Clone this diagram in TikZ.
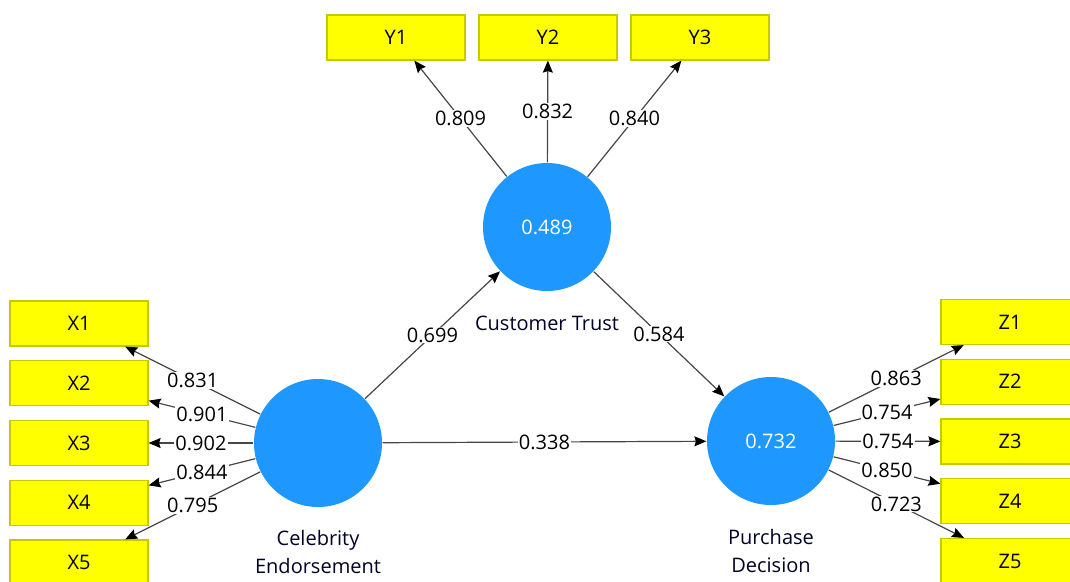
\documentclass[tikz,border=0pt]{standalone}
\usepackage{fontspec}
\setmainfont{Open Sans}
\usetikzlibrary{arrows.meta}

\definecolor{lvblue}{RGB}{30,152,255}
\definecolor{mvyellow}{RGB}{255,255,0}
\definecolor{mvborder}{RGB}{200,200,0}
\definecolor{pathgray}{RGB}{70,70,70}

\begin{document}
\begin{tikzpicture}[x=1pt, y=-1pt, node distance=59.75pt,
    >={Stealth[length=12pt, width=10pt, inset=1.5pt, color=black]}]
      \tikzstyle{latent} = [circle, fill=lvblue, minimum size=128pt, inner sep=0pt, text=white]
      \tikzstyle{item} = [draw=mvborder, fill=mvyellow, minimum width=138pt, minimum height=45pt, inner sep=0pt]
      \tikzstyle{load} = [fill=white, inner sep=1pt]
      \tikzstyle{caption} = [align=center, text=black!85!blue]
      \clip (0,0) rectangle (1070,581);
      \fontsize{20}{28}\selectfont
      \begin{scope}
	\path[->, draw=pathgray, line width=1.2pt]
	node[latent] (ct) at (547,227) {0.489}
	node[latent] (ce) at (318,443) {}
	node[latent] (pd) at (771,441) {0.732}
	node[caption] (ctl) at (547,323) {Customer Trust}
	node[caption] (cel) at (318,552) {Celebrity\\Endorsement}
	node[caption] (pdl) at (771,551) {Purchase\\Decision}
	node[item] (y1) at (396,37.5) {Y1}
	node[item] (y2) at (548,37.5) {Y2}
	node[item] (y3) at (700,37.5) {Y3}
	node[item] (x1) at (79,323.5) {X1}
	node[item, below of=x1] (x2) {X2}
	node[item, below of=x2] (x3) {X3}
	node[item, below of=x3] (x4) {X4}
	node[item, below of=x4] (x5) {X5}
	node[item] (z1) at (1010,322) {Z1}
	node[item, below of=z1] (z2) {Z2}
	node[item, below of=z2] (z3) {Z3}
	node[item, below of=z3] (z4) {Z4}
	node[item, below of=z4] (z5) {Z5}
	(ct) edge node[load] {0.809} (y1)
	(ct) edge node[load] {0.832} (y2)
	(ct) edge node[load] {0.840} (y3)
	(ce) edge node[load] {0.831} (x1)
	(ce) edge node[load] {0.901} (x2)
	(ce) edge node[load] {0.902} (x3)
	(ce) edge node[load] {0.844} (x4)
	(ce) edge node[load] {0.795} (x5)
	(pd) edge node[load] {0.863} (z1)
	(pd) edge node[load] {0.754} (z2)
	(pd) edge node[load] {0.754} (z3)
	(pd) edge node[load] {0.850} (z4)
	(pd) edge node[load] {0.723} (z5)
	(ce) edge node[load] {0.699} (ct)
	(ct) edge node[load] {0.584} (pd)
	(ce) edge node[load] {0.338} (pd)
	;
      \end{scope}
    \end{tikzpicture}
\end{document}
